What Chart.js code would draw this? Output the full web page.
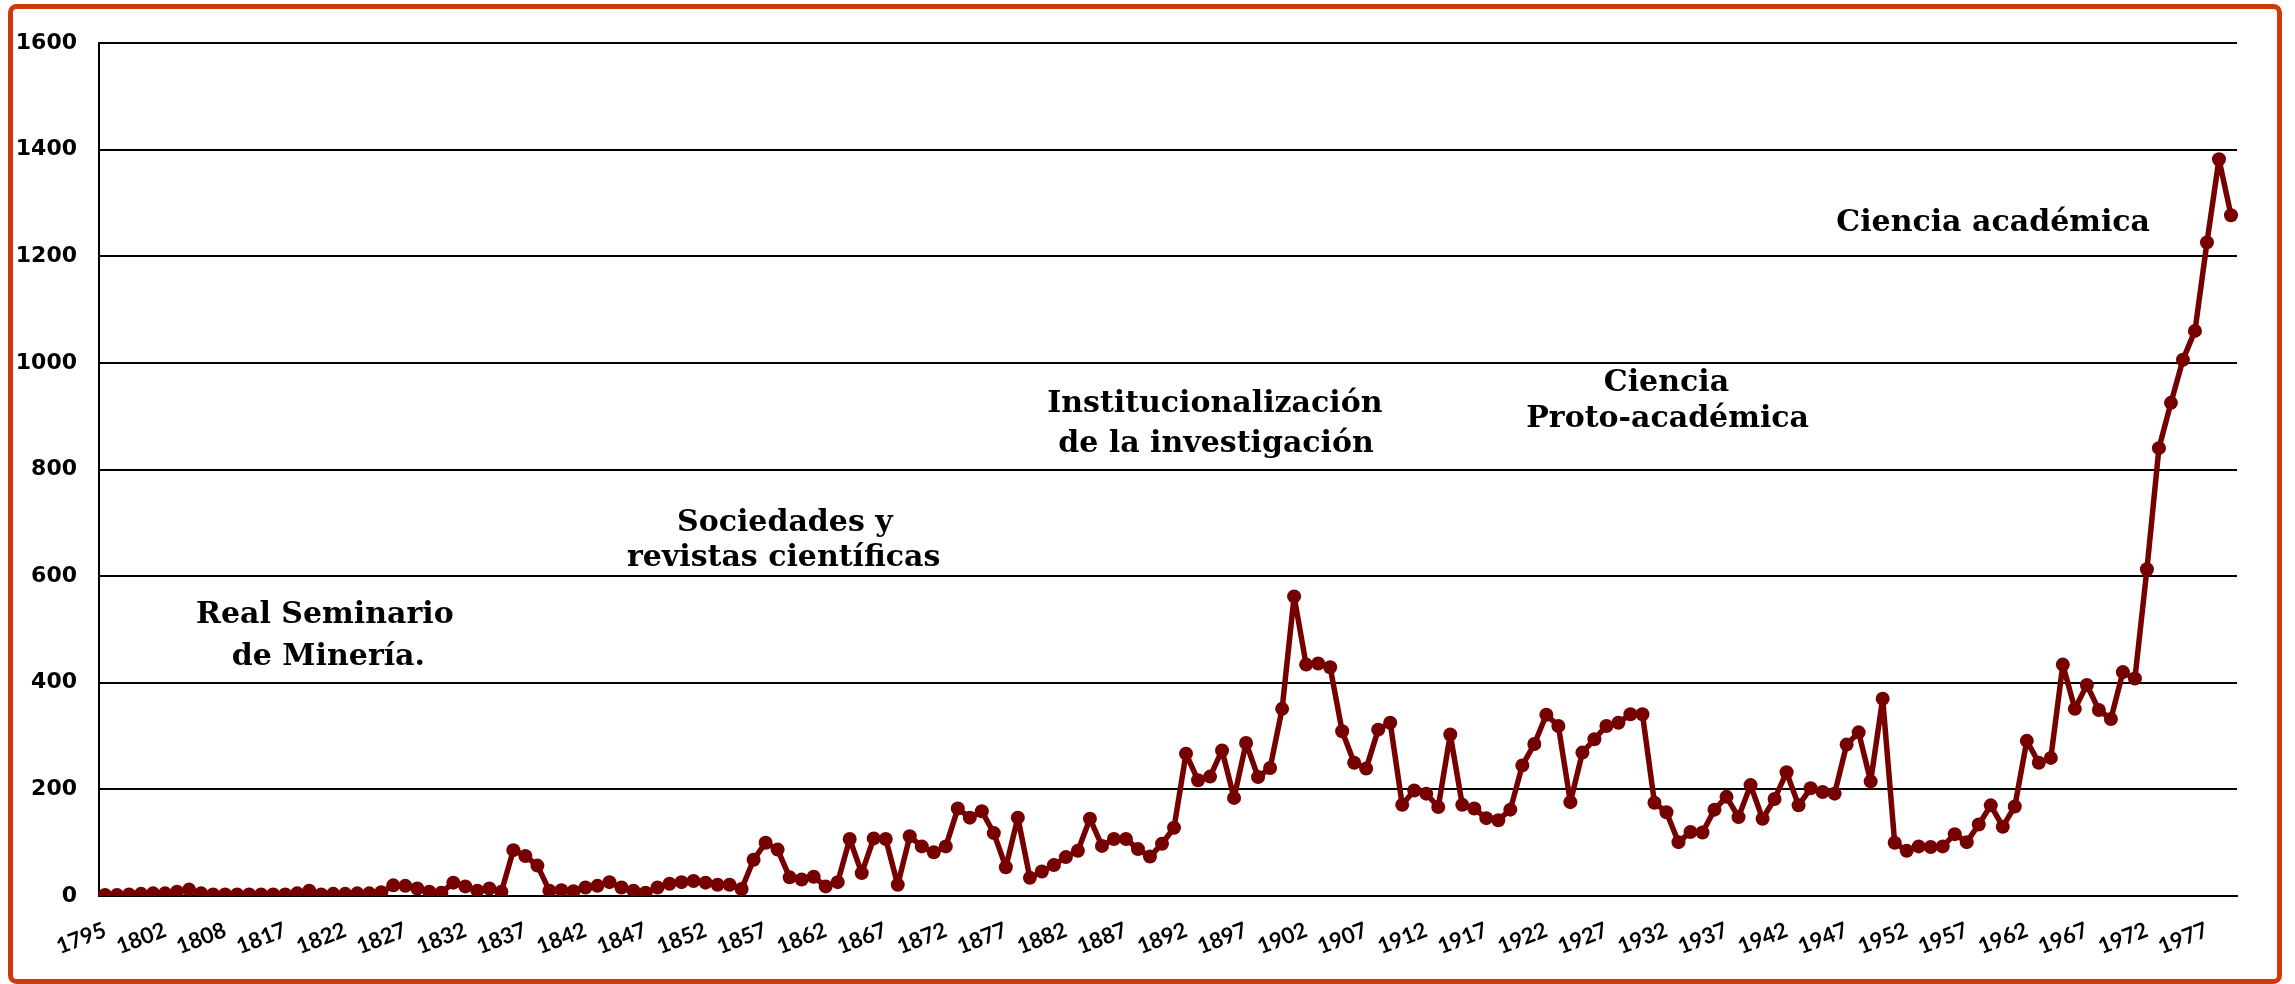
<!DOCTYPE html>
<html>
<head>
<meta charset="utf-8">
<script src="https://cdn.jsdelivr.net/npm/chart.js@4"></script>
<style>
  html, body { margin: 0; padding: 0; background: #fff; }
  canvas { display: block; }
</style>
</head>
<body>
<canvas id="grafico" width="2295" height="984"></canvas>
<script>
// Años (los primeros no son consecutivos)
const anos = [1795, 1796, 1797, 1799, 1800, 1802, 1803, 1804, 1805, 1806,
    1808, 1810, 1812, 1814, 1815];
for (let a = 1817; a <= 1979; a++) anos.push(a);

// Publicaciones por año
const publicaciones = [
    2, 2, 3, 4, 5, 5, 8, 12, 5, 3, 3, 3, 3, 3, 3, 3, 5, 10, 3, 4,
    4, 5, 5, 7, 20, 19, 14, 8, 6, 25, 18, 10, 14, 8, 86, 75, 57, 10,
    11, 9, 16, 19, 26, 16, 10, 6, 16, 23, 26, 28, 25, 21, 21, 13, 68, 100, 87, 35,
    31, 36, 18, 26, 107, 43, 108, 107, 21, 112, 93, 82, 93, 164, 147, 159, 118, 54,
    147, 34, 46, 58, 73, 85,
    145, 94, 107, 107, 88, 74, 98, 128, 267, 217, 224, 273, 184, 287, 223, 240,
    351, 562, 434, 436, 429, 309, 250, 239, 312, 325, 171, 198, 192, 167, 303, 171,
    164, 146, 142, 162,
    245, 285, 340, 319, 176, 269, 294, 319, 325, 341, 341, 175, 157, 101, 120, 119,
    162, 186, 148, 208, 145, 182, 232, 170, 202, 195, 192, 284, 307, 215, 370, 100,
    85, 93, 92, 93,
    116, 101, 134, 170, 130, 168, 291, 250, 259, 434, 351, 396, 349, 332, 420, 408,
    613, 840, 925, 1006, 1060, 1226, 1382, 1277
];

// Marcas del eje Y
const ticksY = [0, 200, 400, 600, 800, 1000, 1200, 1400, 1600];

// Etapas (texto, índice de categoría, valor)
const etapas = [
    ["Real Seminario", 18.3, 527],
    ["de Minería.", 18.6, 448],
    ["Sociedades y", 56.6, 700],
    ["revistas científicas", 56.5, 634],
    ["Institucionalización", 92.4, 922],
    ["de la investigación", 92.5, 848],
    ["Ciencia", 130.0, 961],
    ["Proto-académica", 130.1, 895],
    ["Ciencia académica", 157.2, 1262]
];

const rojo = "#760000";

const extras = {
    id: "extras",
    afterDraw(chart) {
        const ctx = chart.ctx;
        const x = chart.scales.x, y = chart.scales.y;
        ctx.save();
        ctx.fillStyle = "#000";
        ctx.font = "bold 30px 'DejaVu Serif'";
        ctx.textAlign = "center";
        ctx.textBaseline = "middle";
        etapas.forEach(e => {
            ctx.fillText(e[0], x.getPixelForValue(e[1]), y.getPixelForValue(e[2]));
        });
        // marco naranja
        ctx.strokeStyle = "#cf3a0c";
        ctx.lineWidth = 5;
        ctx.beginPath();
        ctx.roundRect(10.5, 6.5, 2269, 975, 6);
        ctx.stroke();
        ctx.restore();
    }
};

new Chart(document.getElementById("grafico"), {
    type: "line",
    data: {
        labels: anos,
        datasets: [{
            data: publicaciones,
            borderColor: rojo,
            backgroundColor: rojo,
            borderWidth: 5.5,
            borderJoinStyle: "round",
            pointRadius: 7,
            pointBorderWidth: 0,
            pointBackgroundColor: rojo,
            tension: 0
        }]
    },
    options: {
        responsive: false,
        animation: false,
        layout: { padding: { top: 43, right: 58, left: 0, bottom: 0 } },
        plugins: { legend: { display: false }, tooltip: { enabled: false } },
        scales: {
            x: {
                offset: true,
                grid: { display: false, drawTicks: false },
                border: { display: true, color: "#000", width: 2 },
                afterFit(s) { s.height = 88; },
                ticks: {
                    autoSkip: false,
                    minRotation: 21,
                    maxRotation: 21,
                    padding: 21,
                    color: "#000",
                    font: { family: "Lato", weight: "bold", size: 22 },
                    callback(v, i) { return i % 5 === 0 ? anos[i] : ""; }
                }
            },
            y: {
                min: 0,
                max: 1600,
                afterFit(s) { s.width = 99; },
                afterBuildTicks(s) { s.ticks = ticksY.map(v => ({ value: v })); },
                grid: { color: "#000", lineWidth: 2, drawTicks: false },
                border: { display: true, color: "#000", width: 2 },
                ticks: {
                    padding: 22,
                    color: "#000",
                    font: { family: "DejaVu Sans", weight: "bold", size: 22 },
                    callback(v) { return String(v); }
                }
            }
        }
    },
    plugins: [extras]
});
</script>
</body>
</html>
